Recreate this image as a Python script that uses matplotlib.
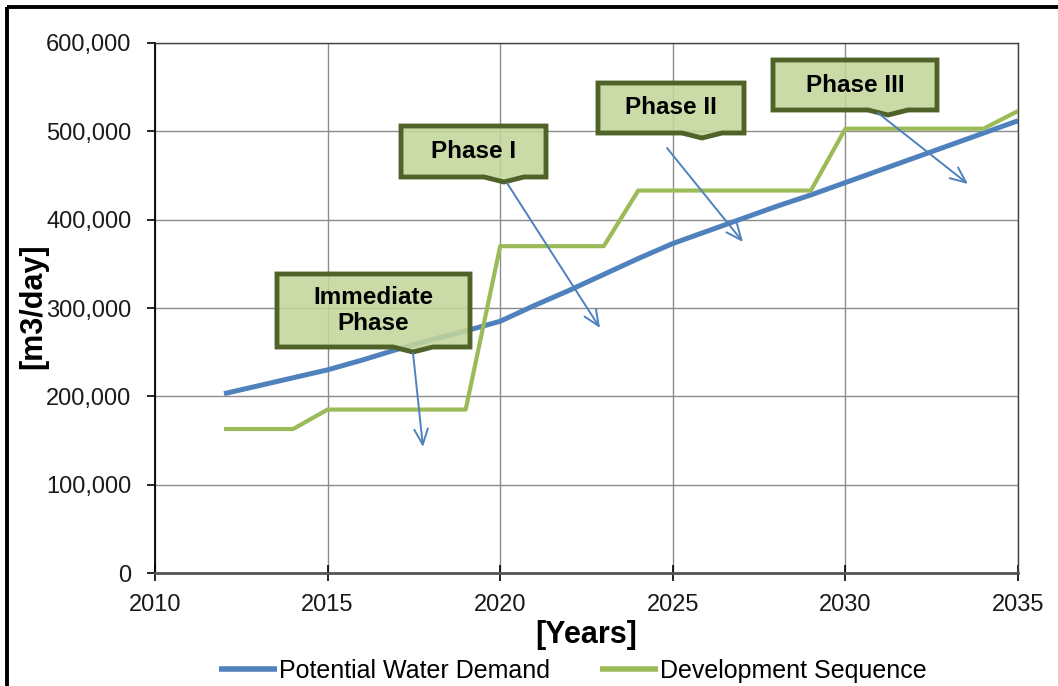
import matplotlib
matplotlib.use('Agg')
import matplotlib.pyplot as plt
import matplotlib.patches as mpatches
import matplotlib.transforms as mtransforms
from matplotlib.colors import to_rgba
from matplotlib.ticker import FuncFormatter

plt.rcParams['font.family'] = ['Liberation Sans', 'DejaVu Sans']

years = list(range(2012, 2036))
demand = [203000, 212000, 221000, 230000, 241000, 253000, 264000, 274000,
          285000, 303000, 320000, 338000, 356000, 373000, 387000, 401000,
          415000, 428000, 442000, 456000, 470000, 484000, 498000, 512000]
sequence = [163000, 163000, 163000, 185000, 185000, 185000, 185000, 185000,
            370000, 370000, 370000, 370000, 433000, 433000, 433000, 433000,
            433000, 433000, 503000, 503000, 503000, 503000, 503000, 523000]

phase_labels = ['Immediate\nPhase', 'Phase I', 'Phase II', 'Phase III']

BLUE = '#4F81BD'
GREEN = '#9BBB59'
BOX_EDGE = '#4F6228'
BOX_FILL = '#C3D69B'

W, H = 1058, 686
fig = plt.figure(figsize=(W / 100, H / 100), dpi=100)
ax = fig.add_axes([155 / W, 1 - 573 / H, (1018 - 155) / W, (573 - 43) / H])

ax.plot(years, demand, color=BLUE, lw=3.6, label='Potential Water Demand', solid_capstyle='butt')
ax.plot(years, sequence, color=GREEN, lw=3.0, label='Development Sequence', solid_capstyle='butt')

ax.set_xlim(2010, 2035)
ax.set_ylim(0, 600000)
ax.set_xticks(range(2010, 2036, 5))
ax.set_yticks(range(0, 600001, 100000))
ax.yaxis.set_major_formatter(FuncFormatter(lambda v, p: f'{v:,.0f}'))
ax.grid(True, color='#8C8C8C', lw=1.0)
ax.set_axisbelow(True)
for s in ['top', 'right']:
    ax.spines[s].set_color('#404040')
    ax.spines[s].set_linewidth(1.0)
ax.spines['left'].set_color('black')
ax.spines['left'].set_linewidth(1.3)
ax.spines['bottom'].set_color('#555555')
ax.spines['bottom'].set_linewidth(2.0)
ax.tick_params(axis='y', direction='out', length=6, width=1.2, labelsize=17, pad=11,
               labelcolor='#1a1a1a')
ax.tick_params(axis='x', direction='inout', length=12, width=1.2, labelsize=17, pad=9,
               labelcolor='#1a1a1a')

ax.set_xlabel('[Years]', fontsize=22, fontweight='bold', labelpad=3)
ax.set_ylabel('[m3/day]', fontsize=22, fontweight='bold')
ax.yaxis.set_label_coords(-0.124, 0.504)

leg = fig.legend(loc='center', bbox_to_anchor=(573 / W, 1 - 671 / H), ncol=2, frameon=False,
                 prop={'size': 18}, handlelength=2.3, handletextpad=0.1, columnspacing=2.0)
for line in leg.get_lines():
    line.set_linewidth(4.0)

# pixel coordinates with origin at top-left of the figure
px = mtransforms.Affine2D().scale(1 / W, -1 / H).translate(0, 1) + fig.transFigure

# outer chart frame
fig.patches.append(mpatches.Rectangle((7, 7), W + 20, H + 20, transform=px, fill=False,
                                      ec='black', lw=2.8))

boxes = [(277, 274, 470, 347, 413), (401, 126, 546, 177, 504),
         (598, 83, 744, 133, 702), (773, 60, 937, 110, 888)]
arrows = [((413, 353), (423, 447)), ((507, 183), (600, 328)),
          ((667, 148), (743, 242)), ((878, 113), (968, 184))]

for (x0, y0, x1, y1, nx), label, (start, end) in zip(boxes, phase_labels, arrows):
    shape = [(x0, y0), (x1, y0), (x1, y1), (nx + 20, y1), (nx, y1 + 5),
             (nx - 20, y1), (x0, y1)]
    fig.patches.append(mpatches.Polygon(shape, closed=True, transform=px,
                                        fc=to_rgba(BOX_FILL, 0.88), ec=BOX_EDGE, lw=3.5,
                                        joinstyle='miter'))
    fig.text((x0 + x1) / 2 / W, 1 - (y0 + y1) / 2 / H, label, ha='center', va='center',
             fontsize=17.5, fontweight='bold', linespacing=1.2)
    fig.patches.append(mpatches.FancyArrowPatch(start, end, transform=px,
                                                arrowstyle='->,head_length=0.8,head_width=0.35',
                                                color=BLUE, lw=1.4, mutation_scale=14,
                                                shrinkA=0, shrinkB=0))

fig.savefig('out.png', dpi=100)
